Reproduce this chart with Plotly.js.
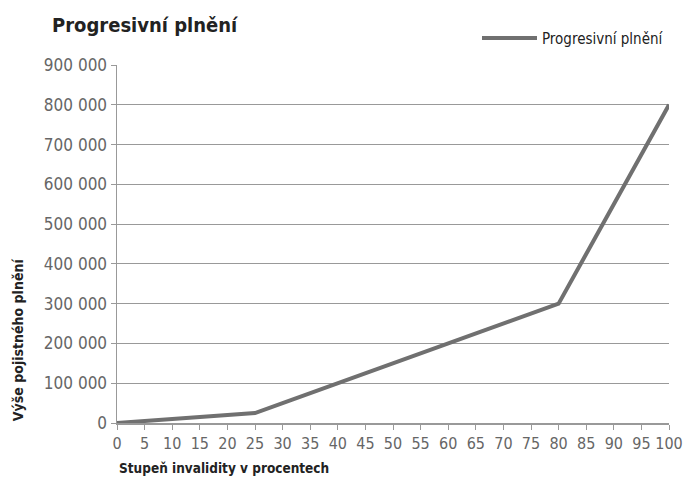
<!DOCTYPE html>
<html><head><meta charset="utf-8">
<script src="https://cdn.plot.ly/plotly-3.0.1.min.js"></script>
<style>html,body{margin:0;padding:0;background:#fff}#c{width:684px;height:482px}</style>
</head><body><div id="c"></div>
<script>
const seriesName = "Progresivní plnění";
const invalidity = [0,5,10,15,20,25,30,35,40,45,50,55,60,65,70,75,80,85,90,95,100];
const payout = [0,5000,10000,15000,20000,25000,50000,75000,100000,125000,150000,175000,200000,225000,250000,275000,300000,425000,550000,675000,800000];
const xTicks = [0,5,10,15,20,25,30,35,40,45,50,55,60,65,70,75,80,85,90,95,100];
const yTicks = [0,100000,200000,300000,400000,500000,600000,700000,800000,900000];

const F = "'Liberation Sans Narrow','DejaVu Sans Condensed','Roboto',sans-serif";
const trace = {x: invalidity, y: payout, type:'scatter', mode:'lines', name: seriesName,
  line:{color:'#707070', width:4}};
const layout = {
  width:684, height:482,
  margin:{l:117, r:15, t:65, b:59},
  separators:', ',
  font:{family:F, color:'#666', size:16},
  paper_bgcolor:'#fff', plot_bgcolor:'#fff',
  showlegend:true,
  legend:{x:1, xanchor:'right', y:1.075, yanchor:'middle', itemwidth:55, font:{family:F,size:15,color:'#222'}, bgcolor:'rgba(0,0,0,0)'},
  xaxis:{range:[0,100], tickvals:xTicks, ticks:'outside', ticklen:5, tickcolor:'#999',
    showline:true, linecolor:'#999', linewidth:1.5, showgrid:false, zeroline:false,
    tickfont:{family:F,size:16,color:'#666'}, fixedrange:true},
  yaxis:{range:[0,900000], tickvals:yTicks, tickformat:',d', ticks:'outside', ticklen:5, tickcolor:'#999',
    showline:true, linecolor:'#999', linewidth:1.5, showgrid:true, gridcolor:'#999', gridwidth:1,
    zeroline:false, tickfont:{family:F,size:17,color:'#666'}, fixedrange:true},
  annotations:[
    {text:'<b>Progresivní plnění</b>', xref:'paper', yref:'paper', x:-0.122, y:1.112, xanchor:'left', yanchor:'middle', showarrow:false, font:{family:F,size:20,color:'#222'}},
    {text:'<b>Stupeň invalidity v procentech</b>', xref:'paper', yref:'paper', x:0, y:-0.125, xanchor:'left', yanchor:'middle', showarrow:false, font:{family:F,size:13.5,color:'#222'}},
    {text:'<b>Výše pojistného plnění</b>', xref:'paper', yref:'paper', x:-0.18, y:0, xanchor:'center', yanchor:'bottom', textangle:-90, showarrow:false, font:{family:F,size:14,color:'#222'}}
  ]
};
Plotly.newPlot('c',[trace],layout,{displayModeBar:false,staticPlot:true});
</script></body></html>
